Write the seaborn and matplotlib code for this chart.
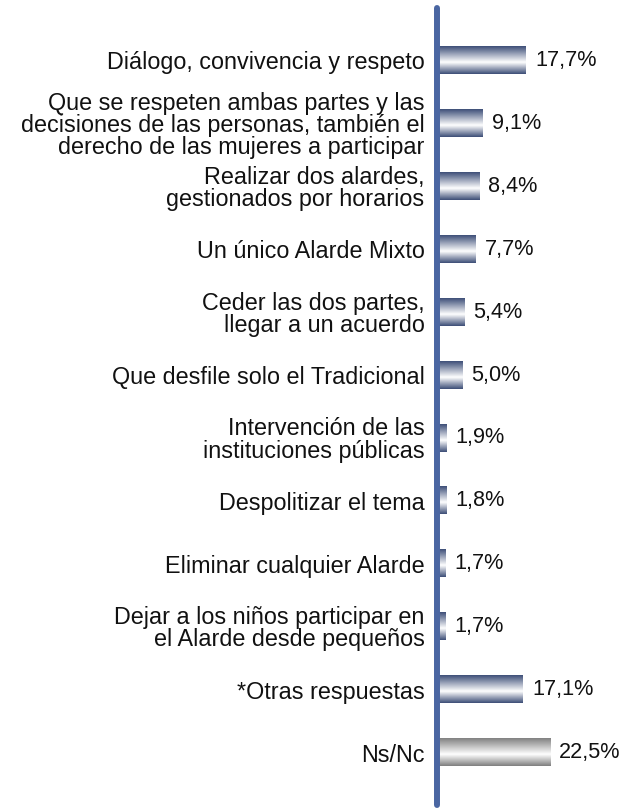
import numpy as np
import pandas as pd
import matplotlib
matplotlib.use("Agg")
import matplotlib.pyplot as plt
from matplotlib.colors import LinearSegmentedColormap
import seaborn as sns

labels = [
    "Diálogo, convivencia y respeto",
    "Que se respeten ambas partes y las\ndecisiones de las personas, también el\nderecho de las mujeres a participar",
    "Realizar dos alardes,\ngestionados por horarios",
    "Un único Alarde Mixto",
    "Ceder las dos partes,\nllegar a un acuerdo",
    "Que desfile solo el Tradicional",
    "Intervención de las\ninstituciones públicas",
    "Despolitizar el tema",
    "Eliminar cualquier Alarde",
    "Dejar a los niños participar en\nel Alarde desde pequeños",
    "*Otras respuestas",
    "Ns/Nc",
]
values = [17.7, 9.1, 8.4, 7.7, 5.4, 5.0, 1.9, 1.8, 1.7, 1.7, 17.1, 22.5]
value_labels = ["17,7%", "9,1%", "8,4%", "7,7%", "5,4%", "5,0%",
                "1,9%", "1,8%", "1,7%", "1,7%", "17,1%", "22,5%"]

sns.set_style("white")
plt.rcParams["font.family"] = ["Liberation Sans", "DejaVu Sans"]

df = pd.DataFrame({"label": labels, "value": values})

fig = plt.figure(figsize=(6.23, 8.09), dpi=100)
ax = fig.add_axes([437 / 623, 0.005, 1 - 437 / 623, 0.985])

sns.barplot(data=df, x="value", y="label", orient="h", color="#5a6890",
            width=0.43, ax=ax)

# vertical gradient fill: dark edges, white just below the middle
blue_cmap = LinearSegmentedColormap.from_list(
    "bluebar", [(0, "#3f5079"), (0.58, "#ffffff"), (1, "#3e4f78")])
gray_cmap = LinearSegmentedColormap.from_list(
    "graybar", [(0, "#828282"), (0.58, "#ffffff"), (1, "#808080")])
grad = np.linspace(0, 1, 64).reshape(-1, 1)

for i, patch in enumerate(ax.patches):
    x0, y0 = patch.get_x(), patch.get_y()
    w, h = patch.get_width(), patch.get_height()
    patch.set_visible(False)
    cmap = gray_cmap if i == len(values) - 1 else blue_cmap
    ax.imshow(grad, extent=(x0, x0 + w, y0 + h, y0), origin="upper",
              aspect="auto", cmap=cmap, zorder=2, interpolation="bilinear")
    ax.text(x0 + w + 1.8, y0 + h / 2, value_labels[i], va="center",
            ha="left", fontsize=15.6, color="#111111")

ax.set_xlim(0, 37.0)
ax.set_ylim(11.83, -0.83)
ax.set_xlabel("")
ax.set_ylabel("")
ax.set_xticks([])
ax.tick_params(axis="y", length=0, pad=9, labelsize=16.8, labelcolor="#111111")
for t in ax.get_yticklabels():
    t.set_linespacing(0.95)

for side in ["top", "right", "bottom"]:
    ax.spines[side].set_visible(False)
ax.spines["left"].set_color("#4a66a2")
ax.spines["left"].set_linewidth(4.3)
ax.spines["left"].set_capstyle("round")

fig.savefig("out.png", dpi=100)
